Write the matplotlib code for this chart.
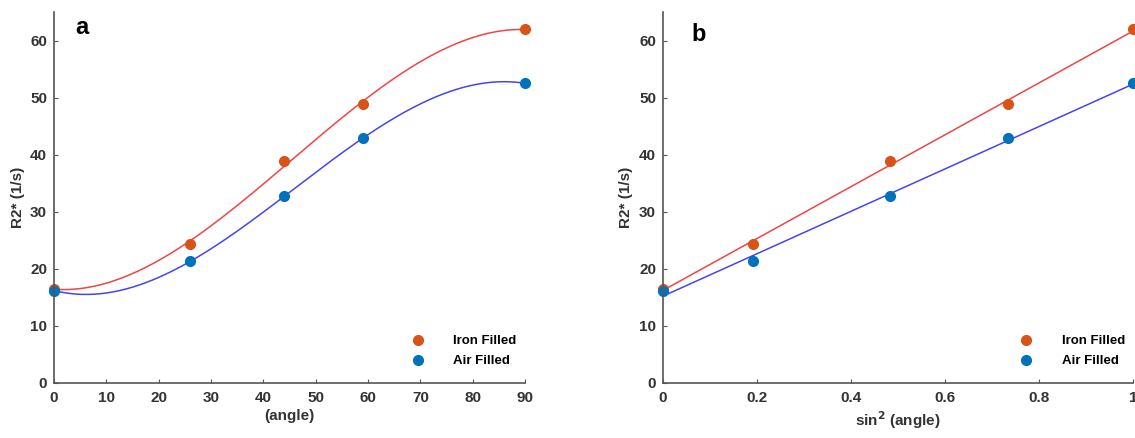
import numpy as np
import matplotlib
matplotlib.use('Agg')
import matplotlib.pyplot as plt

plt.rcParams['font.family'] = ['Liberation Sans', 'DejaVu Sans']
plt.rcParams['font.weight'] = 'bold'

# data
angle = [0, 26, 44, 59, 90]
sin2_angle = [0, 0.192, 0.483, 0.735, 1.0]
iron_filled = [16.5, 24.4, 38.9, 48.8, 62.0]
air_filled = [16.2, 21.3, 32.7, 42.9, 52.5]

iron_color = '#D95319'
air_color = '#0072BD'
iron_line = '#F04545'
air_line = '#4545F0'
tick_color = '#333333'


def style_axes(ax):
    for side in ['top', 'right']:
        ax.spines[side].set_visible(False)
    for side in ['left', 'bottom']:
        ax.spines[side].set_color('#555555')
        ax.spines[side].set_linewidth(1.2)
    ax.tick_params(direction='in', length=3, colors='#555555',
                   labelcolor=tick_color, labelsize=11)
    ax.tick_params(axis='x', pad=6)
    ax.tick_params(axis='y', pad=5)
    for lab in ax.get_xticklabels() + ax.get_yticklabels():
        lab.set_fontweight('bold')
    ax.set_ylim(0, 65)
    ax.set_yticks([0, 10, 20, 30, 40, 50, 60])
    ax.set_ylabel('R2* (1/s)', fontsize=11, fontweight='bold', color=tick_color,
                  labelpad=4)


def add_legend(ax):
    ax.legend(loc='lower left', bbox_to_anchor=(0.733, 0.01), frameon=False,
              handlelength=1.0, handletextpad=2.2, labelspacing=0.6,
              prop={'weight': 'bold', 'size': 9.5})


fig = plt.figure(figsize=(11.35, 4.38), dpi=100)

# panel a: polynomial fit against angle
ax1 = fig.add_axes([0.0476, 0.1256, 0.415, 0.847])
xa = np.linspace(0, 90, 300)
ax1.plot(xa, np.polyval(np.polyfit(angle, iron_filled, 3), xa), color=iron_line, lw=1.1)
ax1.plot(xa, np.polyval(np.polyfit(angle, air_filled, 3), xa), color=air_line, lw=1.1)
ax1.plot(angle, iron_filled, 'o', color=iron_color, ms=7, label='Iron Filled', clip_on=False)
ax1.plot(angle, air_filled, 'o', color=air_color, ms=7, label='Air Filled', clip_on=False)
ax1.set_xlim(0, 90)
ax1.set_xticks(range(0, 91, 10))
style_axes(ax1)
ax1.set_xlabel('(angle)', fontsize=11, fontweight='bold', color=tick_color, labelpad=3)
add_legend(ax1)
ax1.text(0.045, 0.99, 'a', transform=ax1.transAxes, fontsize=17,
         fontweight='bold', va='top', ha='left')

# panel b: linear fit against sin^2(angle)
ax2 = fig.add_axes([0.5841, 0.1256, 0.4141, 0.847])
xb = np.linspace(0, 1, 50)
ax2.plot(xb, np.polyval(np.polyfit(sin2_angle, iron_filled, 1), xb), color=iron_line, lw=1.1)
ax2.plot(xb, np.polyval(np.polyfit(sin2_angle, air_filled, 1), xb), color=air_line, lw=1.1)
ax2.plot(sin2_angle, iron_filled, 'o', color=iron_color, ms=7, label='Iron Filled', clip_on=False)
ax2.plot(sin2_angle, air_filled, 'o', color=air_color, ms=7, label='Air Filled', clip_on=False)
ax2.set_xlim(0, 1)
ax2.set_xticks([0, 0.2, 0.4, 0.6, 0.8, 1])
ax2.set_xticklabels(['0', '0.2', '0.4', '0.6', '0.8', '1'])
style_axes(ax2)
ax2.set_xlabel('sin$^{\\mathbf{2}}$ (angle)', fontsize=11, fontweight='bold', color=tick_color,
               labelpad=3)
add_legend(ax2)
ax2.text(0.06, 0.97, 'b', transform=ax2.transAxes, fontsize=17,
         fontweight='bold', va='top', ha='left')

fig.savefig('out.png', dpi=100, facecolor='white')
